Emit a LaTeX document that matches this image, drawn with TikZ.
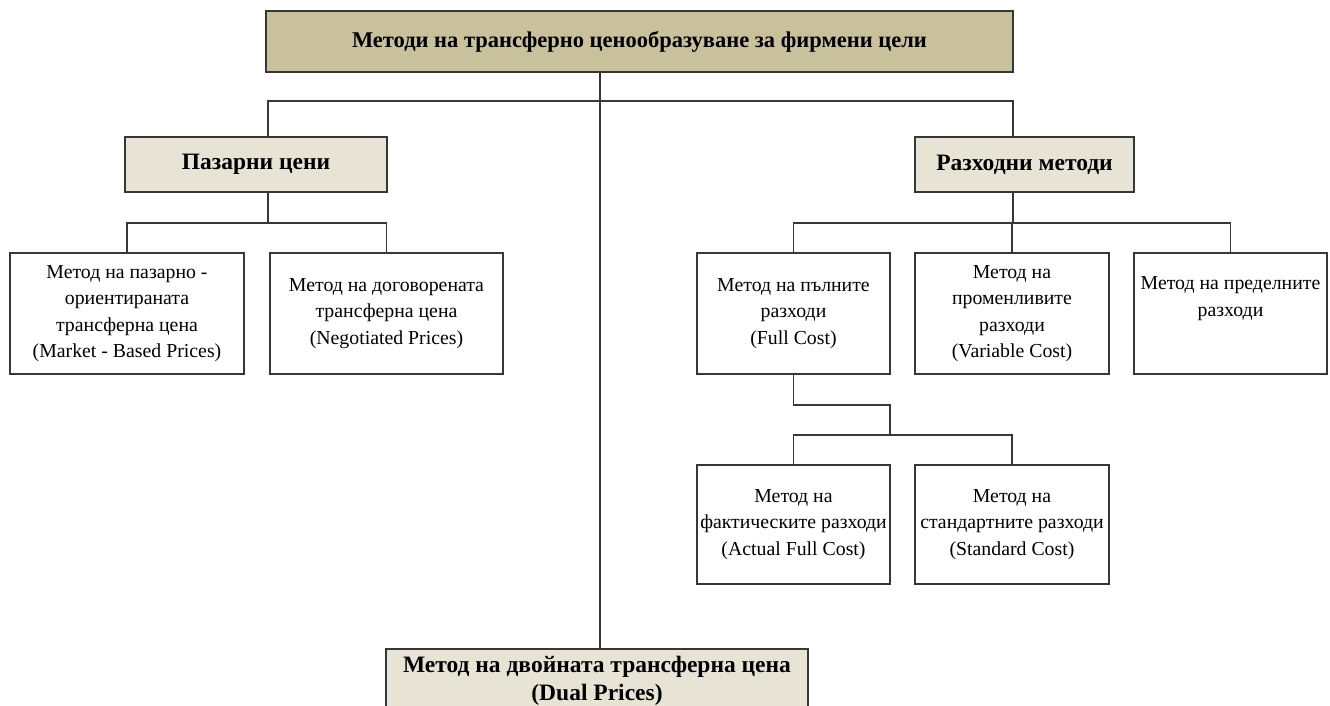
\documentclass[tikz,border=0pt]{standalone}
\usepackage{fontspec}
\setmainfont{Liberation Serif}
\definecolor{headfill}{RGB}{201,193,156}
\definecolor{subfill}{RGB}{232,228,213}
\definecolor{edge}{RGB}{55,55,55}
\begin{document}
\begin{tikzpicture}[x=1pt,y=-1pt,
  box/.style={draw=edge,line width=1.8pt,rectangle,inner sep=0pt,align=center},
  headbox/.style={box,fill=headfill,font=\fontsize{22.5}{26}\selectfont\bfseries},
  subbox/.style={box,fill=subfill,font=\fontsize{23.5}{28}\selectfont\bfseries},
  leafbox/.style={box,fill=white,font=\fontsize{19.8}{26.5}\selectfont},
  link/.style={draw=edge,line width=1.4pt}]
\useasboundingbox (0,0) rectangle (1330,706);
\fill[white] (0,0) rectangle (1330,706);

% root
\node[headbox,minimum width=747pt,minimum height=61pt] (root) at (639.5,41.5)
  {Методи на трансферно ценообразуване за фирмени цели};

% second level
\node[subbox,minimum width=262pt,minimum height=55pt] (market) at (256,164.5) {Пазарни цени};
\node[subbox,minimum width=219pt,minimum height=55pt] (cost) at (1024.5,164.5) {Разходни методи};

% market-based leaves
\node[leafbox,minimum width=234pt,minimum height=121pt] (mbp) at (127,313.5)
  {Метод на пазарно -\\ориентираната\\трансферна цена\\(Market - Based Prices)};
\node[leafbox,minimum width=233pt,minimum height=121pt] (neg) at (386.5,313.5)
  {Метод на договорената\\трансферна цена\\(Negotiated Prices)};

% cost-based leaves
\node[leafbox,minimum width=193pt,minimum height=121pt] (full) at (793.5,313.5)
  {Метод на пълните\\разходи\\(Full Cost)};
\node[leafbox,minimum width=194pt,minimum height=121pt] (var) at (1012,313.5)
  {Метод на\\променливите\\разходи\\(Variable Cost)};
\node[leafbox,minimum width=193pt,minimum height=121pt] (marg) at (1230.5,313.5)
  {Метод на пределните\\разходи\\\strut};

% full cost leaves
\node[leafbox,minimum width=193pt,minimum height=119pt] (actual) at (793.5,524.5)
  {Метод на\\фактическите разходи\\(Actual Full Cost)};
\node[leafbox,minimum width=194pt,minimum height=119pt] (std) at (1012,524.5)
  {Метод на\\стандартните разходи\\(Standard Cost)};

% dual prices (runs past the lower edge)
\node[subbox,minimum width=422pt,minimum height=64pt,anchor=north] (dual) at (597,648)
  {Метод на двойната трансферна цена\\(Dual Prices)};

% junction points
\coordinate (trunk) at (600,101);
\coordinate (busL) at (268,101);
\coordinate (busR) at (1013,101);
\coordinate (mbus) at (268,223);
\coordinate (cbus) at (1013,223);
\coordinate (fdrop) at (890,405);
\coordinate (fbus) at (890,435);

% connectors
\draw[link] (root.south -| trunk) -- (dual.north -| trunk);
\draw[link] (market.north -| busL) |- (busR) -- (cost.north -| busR);
\draw[link] (market.south -| mbus) -- (mbus);
\draw[link] (mbp.north) |- (neg.north |- mbus) -- (neg.north);
\draw[link] (cost.south -| cbus) -- (cbus);
\draw[link] (full.north) |- (marg.north |- cbus) -- (marg.north);
\draw[link] (var.north) -- (var.north |- cbus);
\draw[link] (full.south) |- (fdrop) -- (fbus);
\draw[link] (actual.north) |- (std.north |- fbus) -- (std.north);
\end{tikzpicture}
\end{document}
